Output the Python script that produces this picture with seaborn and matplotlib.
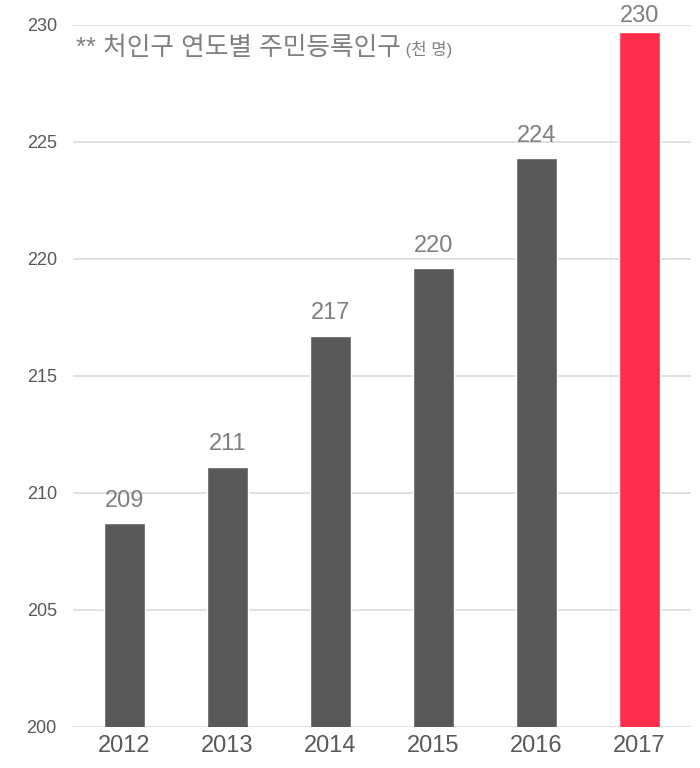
import matplotlib
matplotlib.use("Agg")
import matplotlib.pyplot as plt
import seaborn as sns

# data
years = ["2012", "2013", "2014", "2015", "2016", "2017"]
population = [208.7, 211.1, 216.7, 219.6, 224.3, 229.7]
labels = ["209", "211", "217", "220", "224", "230"]
bar_colors = ["#595959", "#595959", "#595959", "#595959", "#595959", "#FF2D4B"]

sns.set_style("white")
plt.rcParams['font.family'] = ['Liberation Sans', 'Noto Sans CJK KR', 'DejaVu Sans']

fig = plt.figure(figsize=(7, 7.68), dpi=100)
ax = fig.add_axes([0.104, 0.0534, 0.883, 0.9141])

sns.barplot(x=years, y=population, hue=years, palette=bar_colors,
            width=0.40, legend=False, ax=ax, zorder=3, saturation=1)

ax.set_ylim(200, 230)
ax.set_xlim(-0.5, 5.5)
ax.set_yticks([200, 205, 210, 215, 220, 225, 230])
ax.yaxis.grid(True, color="#d9d9d9", linewidth=1.1, zorder=0)
ax.xaxis.grid(False)
sns.despine(ax=ax, left=True, bottom=True)

ax.tick_params(axis='y', length=0, pad=11.5, labelsize=13, labelcolor="#595959")
ax.tick_params(axis='x', length=0, pad=6, labelsize=17, labelcolor="#595959")

# one container per hue level (= per year); last label sits tighter to fit
for i, c in enumerate(ax.containers):
    pad = 3.5 if i == len(ax.containers) - 1 else 8.5
    ax.bar_label(c, labels=[labels[i]] * len(c), padding=pad, fontsize=17,
                 color="#7f7f7f", clip_on=False)

t1 = ax.text(-0.465, 229.0, "** 처인구 연도별 주민등록인구", fontsize=18.5, color="#808080",
             ha="left", va="center")
ax.annotate(" (천 명)", xy=(1, 0), xycoords=t1, xytext=(0, 2), textcoords="offset points",
            fontsize=12, color="#808080", ha="left", va="bottom")

fig.savefig("out.png", dpi=100)
